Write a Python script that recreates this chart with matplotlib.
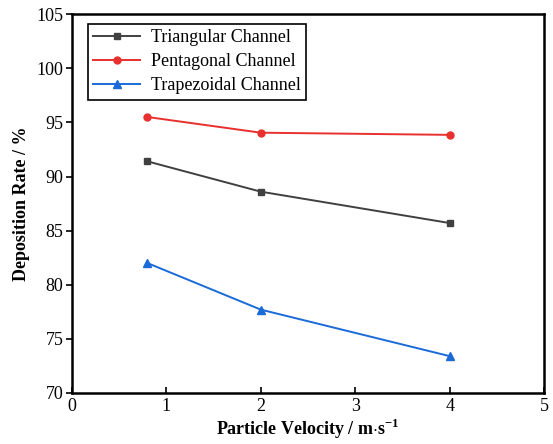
import matplotlib
matplotlib.use("Agg")
import matplotlib.pyplot as plt

plt.rcParams['font.family'] = 'Liberation Serif'
plt.rcParams['mathtext.fontset'] = 'custom'
plt.rcParams['mathtext.rm'] = 'Liberation Serif'
plt.rcParams['mathtext.bf'] = 'Liberation Serif:bold'

# particle velocity (m/s) and deposition rate (%) for each channel shape
velocity = [0.8, 2, 4]
triangular = [91.4, 88.6, 85.7]
pentagonal = [95.5, 94.05, 93.85]
trapezoidal = [82.0, 77.7, 73.4]

fig = plt.figure(figsize=(5.53, 4.44), dpi=100)
ax = fig.add_axes([0.130, 0.115, 0.854, 0.853])

ax.plot(velocity, triangular, color='#404040', marker='s', markersize=5, lw=1.4,
        label='Triangular Channel')
ax.plot(velocity, pentagonal, color='#e8302e', marker='o', markersize=5, lw=1.4,
        label='Pentagonal Channel')
ax.plot(velocity, trapezoidal, color='#1a6ad8', marker='^', markersize=6, lw=1.4,
        label='Trapezoidal Channel')

ax.set_xlim(0, 5)
ax.set_ylim(70, 105)
ax.set_xticks([0, 1, 2, 3, 4, 5])
ax.set_yticks([70, 75, 80, 85, 90, 95, 100, 105])
ax.tick_params(axis='x', direction='in', length=4, width=1.2, labelsize=13, pad=4)
ax.tick_params(axis='y', direction='out', length=4, width=1.2, labelsize=13, pad=2)
for s in ax.spines.values():
    s.set_linewidth(1.8)

ax.set_xlabel(r'Particle Velocity / m$\cdot$s$^{\mathbf{-1}}$', fontsize=13,
              fontweight='bold', labelpad=1)
ax.set_ylabel('Deposition Rate / %', fontsize=13, fontweight='bold', labelpad=5)

leg = ax.legend(loc='upper left', bbox_to_anchor=(0.034, 0.974), borderaxespad=0,
                fontsize=13, frameon=True, fancybox=False, edgecolor='black',
                framealpha=1, handlelength=2.6, borderpad=0.3, labelspacing=0.38,
                handletextpad=0.6)
leg.get_frame().set_linewidth(1.2)

fig.savefig('out.png', dpi=100)
